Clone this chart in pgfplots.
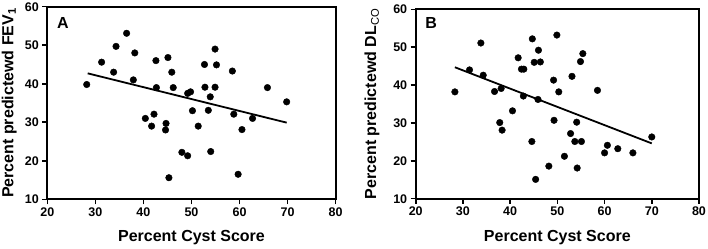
\documentclass[border=0pt]{standalone}
\usepackage{pgfplots}
\pgfplotsset{compat=1.18}
\usepackage{fontspec}
\setmainfont{Liberation Sans}
\pgfplotsset{
  panel/.style={
    scale only axis,
    xmin=20, xmax=80, ymin=10, ymax=60,
    xtick={20,30,...,80}, ytick={10,20,...,60},
    axis line style={line width=2pt},
    tick style={line width=1.6pt, black},
    major tick length=5bp,
    tick align=outside,
    xtick pos=bottom, ytick pos=left,
    /pgf/number format/assume math mode=true,
    every tick label/.append style={font=\fontsize{12.5bp}{14bp}\selectfont\bfseries},
    every axis label/.append style={font=\fontsize{16bp}{18bp}\selectfont\bfseries},
    xlabel={Percent Cyst Score},
    xlabel style={at={(axis description cs:0.5,0)}, anchor=center, yshift=-38.5bp},
  },
  pts/.style={only marks, mark=*, mark size=3.3bp, mark options={fill=black, draw=black}},
  fit/.style={no marks, line width=1.8pt},
}
\begin{document}
\begin{tikzpicture}
\useasboundingbox (-47.3bp,-49.7bp) rectangle (660.7bp,199.3bp);
\begin{axis}[panel, width=288.4bp, height=192.6bp,
  ylabel={Percent predictewd FEV$_\mathbf{1}$},
  ylabel style={at={(axis description cs:-0.132,0.5)}, anchor=center},
]
\addplot[pts] coordinates {
(28.2,39.8) (31.3,45.6) (33.8,43.0) (34.3,49.7) (36.5,53.1) (37.9,41.0) (38.2,48.0)
(40.4,31.0) (42.2,32.1) (41.7,29.0) (42.6,46.0) (42.7,39.0) (44.7,29.7) (44.6,28.0)
(45.1,46.8) (45.3,15.6) (45.9,43.0) (46.2,39.0) (48.0,22.2) (49.2,21.3) (49.2,37.5)
(49.8,37.9) (50.2,33.0) (51.4,29.0) (52.7,45.0) (52.8,39.1) (53.5,33.1) (53.9,36.6)
(54.0,22.4) (54.9,39.1) (54.9,49.0) (55.2,44.9) (58.5,43.3) (58.8,32.1) (59.7,16.5)
(60.5,28.1) (62.7,31.0) (65.8,39.0) (69.8,35.3)
};
\addplot[fit] coordinates {(28.4,42.7) (69.8,29.9)};
\node[anchor=west, font=\fontsize{16bp}{18bp}\selectfont\bfseries] at (rel axis cs:0.022,0.915) {A};
\end{axis}
\begin{axis}[panel, width=283.3bp, height=189.4bp,
  at={(368.4bp,0.6bp)}, anchor=south west,
  ylabel={Percent predictewd DL$_\mathbf{\mathrm{CO}}$},
  ylabel style={at={(axis description cs:-0.154,0.5)}, anchor=center},
]
\addplot[pts] coordinates {
(28.3,38.2) (31.4,44.0) (33.8,51.1) (34.3,42.6) (36.7,38.3) (37.8,30.1) (38.1,39.1)
(38.3,28.1) (40.5,33.2) (41.7,47.2) (42.4,44.2) (42.9,44.2) (42.8,37.1) (44.7,52.2)
(44.6,25.1) (45.1,46.0) (45.4,15.1) (46.0,49.2) (45.9,36.2) (46.4,46.1) (48.2,18.6)
(49.2,41.3) (49.3,30.7) (49.9,53.2) (50.3,38.2) (51.5,21.2) (52.8,27.2) (53.1,42.3)
(53.7,25.1) (54.1,30.2) (54.2,18.1) (54.9,46.2) (55.1,25.1) (55.4,48.3) (58.5,38.6)
(60.0,22.1) (60.6,24.1) (62.8,23.2) (66.0,22.1) (70.0,26.3)
};
\addplot[fit] coordinates {(28.3,44.7) (70.0,24.6)};
\node[anchor=west, font=\fontsize{16bp}{18bp}\selectfont\bfseries] at (rel axis cs:0.022,0.93) {B};
\end{axis}
\end{tikzpicture}
\end{document}
